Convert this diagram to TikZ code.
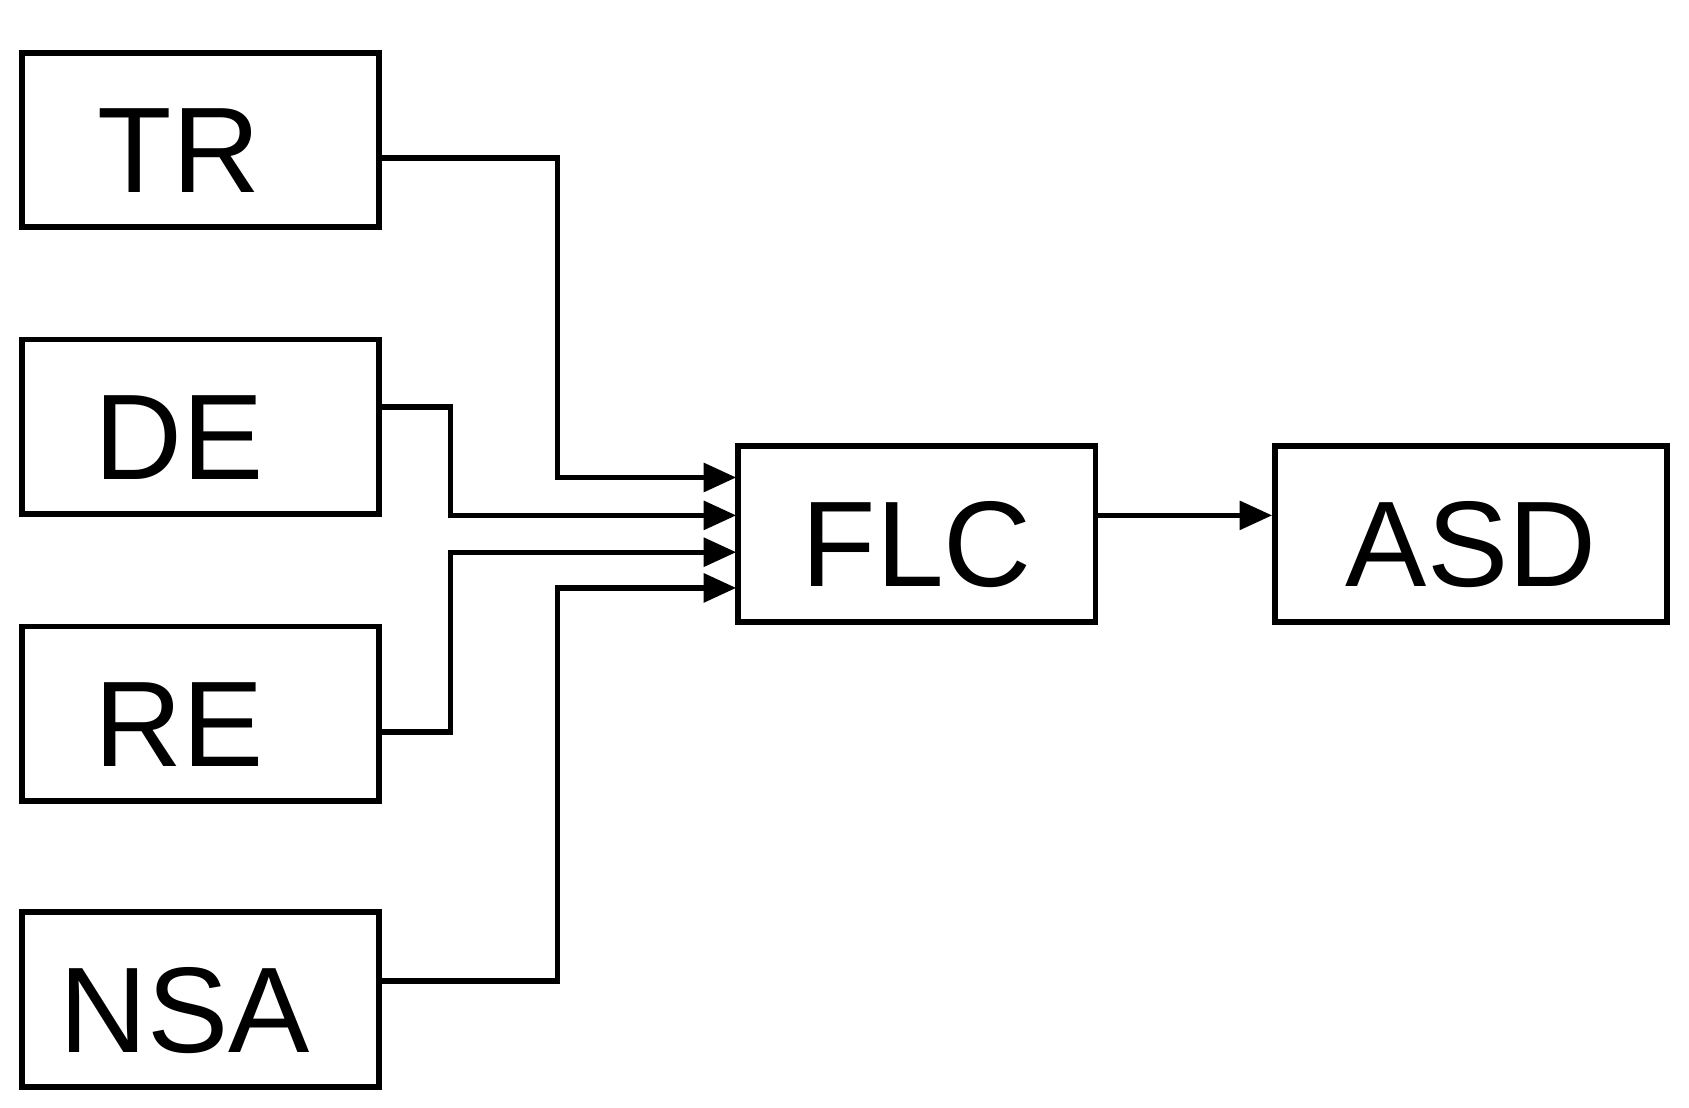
\documentclass[tikz,border=0pt]{standalone}
\usepackage{fontspec}
\setmainfont{Liberation Sans}
\usetikzlibrary{arrows.meta}
\begin{document}
\begin{tikzpicture}[x=0.01cm,y=-0.01cm,
  box/.style={draw,line width=1.5pt,minimum width=3.29cm,minimum height=1.61cm,inner sep=0pt,anchor=north west},
  lbl/.style={font=\fontsize{32}{32}\selectfont,yshift=-0.1cm},
  conn/.style={line width=1.4pt,-{Triangle[length=0.3cm,width=0.26cm]}}]
\useasboundingbox (0,0) rectangle (1560,1023);
\node[box] (TR) at (18,46) {};
\node[lbl,xshift=-0.2cm] at (TR.center) {TR};
\node[box] (DE) at (18,311) {};
\node[lbl,xshift=-0.2cm] at (DE.center) {DE};
\node[box] (RE) at (18,576) {};
\node[lbl,xshift=-0.2cm] at (RE.center) {RE};
\node[box] (NSA) at (18,840) {};
\node[lbl,xshift=-0.15cm] at (NSA.center) {NSA};
\node[box,minimum width=3.30cm,minimum height=1.63cm] (FLC) at (679,409) {};
\node[lbl] at (FLC.center) {FLC};
\node[box,minimum width=3.62cm,minimum height=1.63cm] (ASD) at (1175,409) {};
\node[lbl] at (ASD.center) {ASD};
\coordinate (a1) at (351,146); \coordinate (b1) at (680,441);
\coordinate (a2) at (351,376); \coordinate (b2) at (680,476);
\coordinate (a3) at (351,676); \coordinate (b3) at (680,510);
\coordinate (a4) at (351,906); \coordinate (b4) at (680,543);
\draw[conn] (a1) -- (515,146) -- (515,441) -- (b1);
\draw[conn] (a2) -- (416,376) -- (416,476) -- (b2);
\draw[conn] (a3) -- (416,676) -- (416,510) -- (b3);
\draw[conn] (a4) -- (515,906) -- (515,543) -- (b4);
\draw[conn] (FLC.east |- b2) -- (ASD.west |- b2);
\end{tikzpicture}
\end{document}
